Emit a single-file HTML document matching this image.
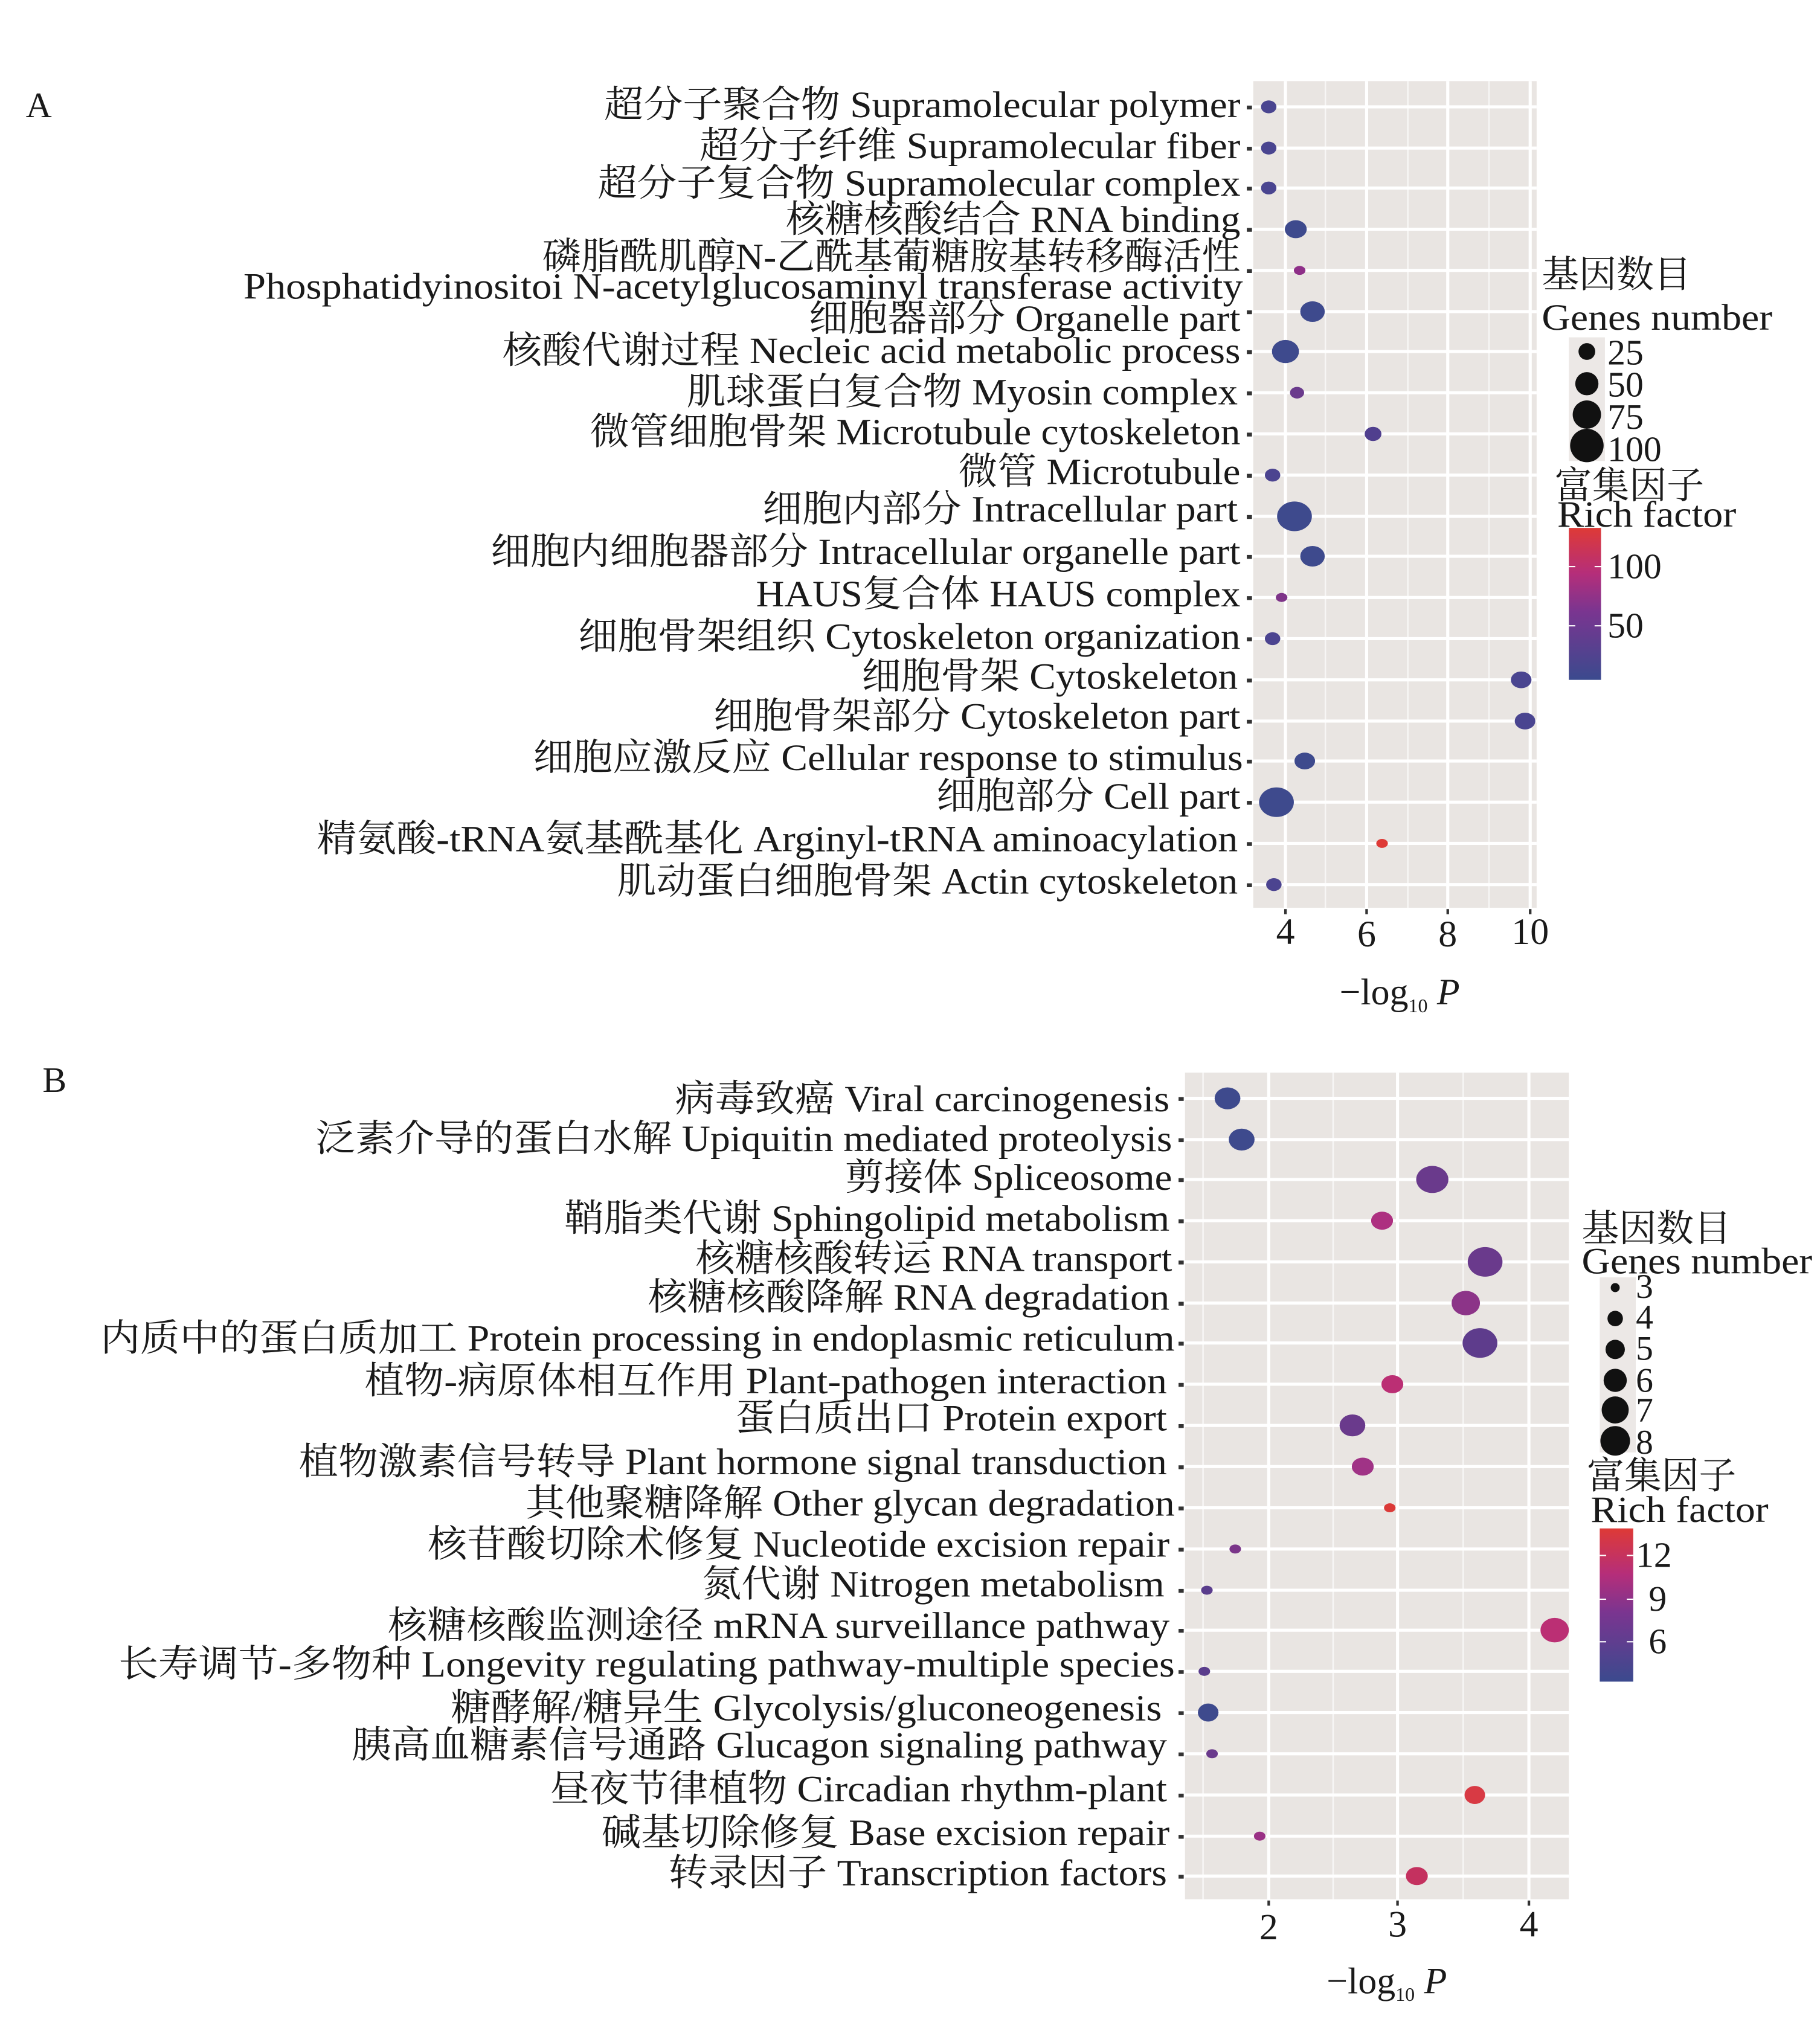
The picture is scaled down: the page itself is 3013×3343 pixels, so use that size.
<!DOCTYPE html>
<html><head><meta charset="utf-8"><style>
html,body{margin:0;padding:0;background:#fff;}
svg{display:block;}
text{font-family:"Liberation Serif","Noto Serif CJK SC",serif;fill:#1a1a1a;}
</style></head><body>
<svg width="3013" height="3343" viewBox="0 0 1413 1568" preserveAspectRatio="none" xmlns="http://www.w3.org/2000/svg">
<defs>
<linearGradient id="cb" x1="0" y1="1" x2="0" y2="0">
<stop offset="0" stop-color="#3b4a8e"/><stop offset="0.45" stop-color="#7a3590"/><stop offset="0.7" stop-color="#b52e7a"/><stop offset="1" stop-color="#de3a36"/>
</linearGradient>
</defs>
<text x="20" y="91" font-size="28">A</text>
<text x="33" y="848" font-size="28">B</text>

<!-- Panel A -->
<rect x="973" y="63" width="220" height="642" fill="#e9e5e2"/>
<g stroke="#f7f6f5" stroke-width="1.2">
<line x1="1029" y1="63" x2="1029" y2="705"/><line x1="1093" y1="63" x2="1093" y2="705"/><line x1="1156" y1="63" x2="1156" y2="705"/>
</g>
<g stroke="#ffffff" stroke-width="2.4">
<line x1="998" y1="63" x2="998" y2="705"/><line x1="1061" y1="63" x2="1061" y2="705"/><line x1="1124" y1="63" x2="1124" y2="705"/><line x1="1188" y1="63" x2="1188" y2="705"/>
<line x1="973" y1="83" x2="1193" y2="83"/><line x1="973" y1="115" x2="1193" y2="115"/><line x1="973" y1="146" x2="1193" y2="146"/><line x1="973" y1="178" x2="1193" y2="178"/><line x1="973" y1="210" x2="1193" y2="210"/><line x1="973" y1="242" x2="1193" y2="242"/><line x1="973" y1="273" x2="1193" y2="273"/><line x1="973" y1="305" x2="1193" y2="305"/><line x1="973" y1="337" x2="1193" y2="337"/><line x1="973" y1="369" x2="1193" y2="369"/><line x1="973" y1="401" x2="1193" y2="401"/><line x1="973" y1="432" x2="1193" y2="432"/><line x1="973" y1="464" x2="1193" y2="464"/><line x1="973" y1="496" x2="1193" y2="496"/><line x1="973" y1="528" x2="1193" y2="528"/><line x1="973" y1="560" x2="1193" y2="560"/><line x1="973" y1="591" x2="1193" y2="591"/><line x1="973" y1="623" x2="1193" y2="623"/><line x1="973" y1="655" x2="1193" y2="655"/><line x1="973" y1="687" x2="1193" y2="687"/>
</g>
<g font-size="29" lengthAdjust="spacingAndGlyphs">
<text x="469" y="91" textLength="494" lengthAdjust="spacingAndGlyphs">超分子聚合物 Supramolecular polymer</text>
<text x="543" y="123" textLength="420" lengthAdjust="spacingAndGlyphs">超分子纤维 Supramolecular fiber</text>
<text x="464" y="152" textLength="499" lengthAdjust="spacingAndGlyphs">超分子复合物 Supramolecular complex</text>
<text x="610" y="180" textLength="353" lengthAdjust="spacingAndGlyphs">核糖核酸结合 RNA binding</text>
<text x="421" y="209" textLength="542" lengthAdjust="spacingAndGlyphs">磷脂酰肌醇N-乙酰基葡糖胺基转移酶活性</text>
<text x="189" y="232" textLength="776" lengthAdjust="spacingAndGlyphs">Phosphatidyinositoi N-acetylglucosaminyl transferase activity</text>
<text x="628" y="257" textLength="335" lengthAdjust="spacingAndGlyphs">细胞器部分 Organelle part</text>
<text x="390" y="282" textLength="573" lengthAdjust="spacingAndGlyphs">核酸代谢过程 Necleic acid metabolic process</text>
<text x="533" y="314" textLength="428" lengthAdjust="spacingAndGlyphs">肌球蛋白复合物 Myosin complex</text>
<text x="458" y="345" textLength="505" lengthAdjust="spacingAndGlyphs">微管细胞骨架 Microtubule cytoskeleton</text>
<text x="744" y="376" textLength="219" lengthAdjust="spacingAndGlyphs">微管 Microtubule</text>
<text x="592" y="405" textLength="369" lengthAdjust="spacingAndGlyphs">细胞内部分 Intracellular part</text>
<text x="381" y="438" textLength="582" lengthAdjust="spacingAndGlyphs">细胞内细胞器部分 Intracellular organelle part</text>
<text x="587" y="471" textLength="376" lengthAdjust="spacingAndGlyphs">HAUS复合体 HAUS complex</text>
<text x="449" y="504" textLength="514" lengthAdjust="spacingAndGlyphs">细胞骨架组织 Cytoskeleton organization</text>
<text x="669" y="535" textLength="292" lengthAdjust="spacingAndGlyphs">细胞骨架 Cytoskeleton</text>
<text x="554" y="566" textLength="409" lengthAdjust="spacingAndGlyphs">细胞骨架部分 Cytoskeleton part</text>
<text x="414" y="598" textLength="551" lengthAdjust="spacingAndGlyphs">细胞应激反应 Cellular response to stimulus</text>
<text x="727" y="628" textLength="236" lengthAdjust="spacingAndGlyphs">细胞部分 Cell part</text>
<text x="246" y="661" textLength="715" lengthAdjust="spacingAndGlyphs">精氨酸-tRNA氨基酰基化 Arginyl-tRNA aminoacylation</text>
<text x="479" y="694" textLength="482" lengthAdjust="spacingAndGlyphs">肌动蛋白细胞骨架 Actin cytoskeleton</text>
</g>
<g fill="#333">
<rect x="968" y="82" width="4" height="3"/><rect x="968" y="114" width="4" height="3"/><rect x="968" y="145" width="4" height="3"/><rect x="968" y="177" width="4" height="3"/><rect x="968" y="209" width="4" height="3"/><rect x="968" y="241" width="4" height="3"/><rect x="968" y="272" width="4" height="3"/><rect x="968" y="304" width="4" height="3"/><rect x="968" y="336" width="4" height="3"/><rect x="968" y="368" width="4" height="3"/><rect x="968" y="400" width="4" height="3"/><rect x="968" y="431" width="4" height="3"/><rect x="968" y="463" width="4" height="3"/><rect x="968" y="495" width="4" height="3"/><rect x="968" y="527" width="4" height="3"/><rect x="968" y="559" width="4" height="3"/><rect x="968" y="590" width="4" height="3"/><rect x="968" y="622" width="4" height="3"/><rect x="968" y="654" width="4" height="3"/><rect x="968" y="686" width="4" height="3"/>
<rect x="997" y="706" width="2" height="4"/><rect x="1060" y="706" width="2" height="4"/><rect x="1123" y="706" width="2" height="4"/><rect x="1187" y="706" width="2" height="4"/>
</g>
<g>
<ellipse cx="985" cy="83" rx="6" ry="5" fill="#4a4590"/>
<ellipse cx="985" cy="115" rx="6" ry="5" fill="#4a4590"/>
<ellipse cx="985" cy="146" rx="6" ry="5" fill="#4a4590"/>
<ellipse cx="1006" cy="178" rx="8.5" ry="7" fill="#3e4a8d"/>
<ellipse cx="1009" cy="210" rx="4.5" ry="3.5" fill="#8e2f88"/>
<ellipse cx="1019" cy="242" rx="9.5" ry="8" fill="#3e4a8d"/>
<ellipse cx="998" cy="273" rx="10.5" ry="9" fill="#3e4a8d"/>
<ellipse cx="1007" cy="305" rx="5.5" ry="4.5" fill="#6a3a8c"/>
<ellipse cx="1066" cy="337" rx="6.5" ry="5.5" fill="#503f8e"/>
<ellipse cx="988" cy="369" rx="6" ry="5" fill="#4c4490"/>
<ellipse cx="1005" cy="401" rx="13.5" ry="11.5" fill="#3e4a8d"/>
<ellipse cx="1019" cy="432" rx="9.5" ry="8" fill="#3e4a8d"/>
<ellipse cx="995" cy="464" rx="4.5" ry="3.5" fill="#7e3489"/>
<ellipse cx="988" cy="496" rx="6" ry="5" fill="#4c4490"/>
<ellipse cx="1181" cy="528" rx="8" ry="6.5" fill="#4a4590"/>
<ellipse cx="1184" cy="560" rx="8" ry="6.5" fill="#4a4590"/>
<ellipse cx="1013" cy="591" rx="8" ry="6.5" fill="#3e4a8d"/>
<ellipse cx="991" cy="623" rx="13.5" ry="11.5" fill="#3e4a8d"/>
<ellipse cx="1073" cy="655" rx="4.5" ry="3.5" fill="#de3a36"/>
<ellipse cx="989" cy="687" rx="6" ry="5" fill="#4c4490"/>
</g>
<g font-size="29" text-anchor="middle">
<text x="998" y="733">4</text><text x="1061" y="735">6</text><text x="1124" y="735">8</text><text x="1188" y="733">10</text>
</g>
<text x="1040" y="780" font-size="29">−log<tspan font-size="15" dy="6">10</tspan><tspan dy="-6" font-style="italic"> P</tspan></text>
<text x="1197" y="223" font-size="29" textLength="116" lengthAdjust="spacingAndGlyphs">基因数目</text>
<text x="1197" y="256" font-size="29" textLength="179" lengthAdjust="spacingAndGlyphs">Genes number</text>
<rect x="1218" y="262" width="28" height="96" fill="#ece8e6"/>
<circle cx="1232" cy="273" r="6.5" fill="#111"/>
<circle cx="1232" cy="298" r="9" fill="#111"/>
<circle cx="1232" cy="322" r="11" fill="#111"/>
<circle cx="1232" cy="346" r="13" fill="#111"/>
<g font-size="28"><text x="1248" y="283">25</text><text x="1248" y="308">50</text><text x="1248" y="333">75</text><text x="1248" y="358">100</text></g>
<text x="1207" y="387" font-size="29" textLength="116" lengthAdjust="spacingAndGlyphs">富集因子</text>
<text x="1209" y="409" font-size="29" textLength="139" lengthAdjust="spacingAndGlyphs">Rich factor</text>
<rect x="1218" y="410" width="25" height="118" fill="url(#cb)"/>
<g stroke="#fff" stroke-width="1"><line x1="1218" y1="440" x2="1223" y2="440"/><line x1="1238" y1="440" x2="1243" y2="440"/><line x1="1218" y1="486" x2="1223" y2="486"/><line x1="1238" y1="486" x2="1243" y2="486"/></g>
<g font-size="28"><text x="1248" y="449">100</text><text x="1248" y="495">50</text></g>

<!-- Panel B -->
<rect x="920" y="833" width="298" height="642" fill="#e9e5e2"/>
<g stroke="#f7f6f5" stroke-width="1.2">
<line x1="934" y1="833" x2="934" y2="1475"/><line x1="1035" y1="833" x2="1035" y2="1475"/><line x1="1136" y1="833" x2="1136" y2="1475"/>
</g>
<g stroke="#ffffff" stroke-width="2.4">
<line x1="985" y1="833" x2="985" y2="1475"/><line x1="1085" y1="833" x2="1085" y2="1475"/><line x1="1187" y1="833" x2="1187" y2="1475"/>
<line x1="920" y1="853" x2="1218" y2="853"/><line x1="920" y1="885" x2="1218" y2="885"/><line x1="920" y1="916" x2="1218" y2="916"/><line x1="920" y1="948" x2="1218" y2="948"/><line x1="920" y1="980" x2="1218" y2="980"/><line x1="920" y1="1012" x2="1218" y2="1012"/><line x1="920" y1="1043" x2="1218" y2="1043"/><line x1="920" y1="1075" x2="1218" y2="1075"/><line x1="920" y1="1107" x2="1218" y2="1107"/><line x1="920" y1="1139" x2="1218" y2="1139"/><line x1="920" y1="1171" x2="1218" y2="1171"/><line x1="920" y1="1203" x2="1218" y2="1203"/><line x1="920" y1="1235" x2="1218" y2="1235"/><line x1="920" y1="1266" x2="1218" y2="1266"/><line x1="920" y1="1298" x2="1218" y2="1298"/><line x1="920" y1="1330" x2="1218" y2="1330"/><line x1="920" y1="1362" x2="1218" y2="1362"/><line x1="920" y1="1394" x2="1218" y2="1394"/><line x1="920" y1="1426" x2="1218" y2="1426"/><line x1="920" y1="1457" x2="1218" y2="1457"/>
</g>
<g font-size="29">
<text x="524" y="863" textLength="384" lengthAdjust="spacingAndGlyphs">病毒致癌 Viral carcinogenesis</text>
<text x="245" y="894" textLength="665" lengthAdjust="spacingAndGlyphs">泛素介导的蛋白水解 Upiquitin mediated proteolysis</text>
<text x="656" y="924" textLength="254" lengthAdjust="spacingAndGlyphs">剪接体 Spliceosome</text>
<text x="438" y="956" textLength="470" lengthAdjust="spacingAndGlyphs">鞘脂类代谢 Sphingolipid metabolism</text>
<text x="540" y="987" textLength="370" lengthAdjust="spacingAndGlyphs">核糖核酸转运 RNA transport</text>
<text x="503" y="1017" textLength="405" lengthAdjust="spacingAndGlyphs">核糖核酸降解 RNA degradation</text>
<text x="78" y="1049" textLength="834" lengthAdjust="spacingAndGlyphs">内质中的蛋白质加工 Protein processing in endoplasmic reticulum</text>
<text x="283" y="1082" textLength="623" lengthAdjust="spacingAndGlyphs">植物-病原体相互作用 Plant-pathogen interaction</text>
<text x="571" y="1111" textLength="335" lengthAdjust="spacingAndGlyphs">蛋白质出口 Protein export</text>
<text x="232" y="1145" textLength="674" lengthAdjust="spacingAndGlyphs">植物激素信号转导 Plant hormone signal transduction</text>
<text x="408" y="1177" textLength="504" lengthAdjust="spacingAndGlyphs">其他聚糖降解 Other glycan degradation</text>
<text x="332" y="1209" textLength="576" lengthAdjust="spacingAndGlyphs">核苷酸切除术修复 Nucleotide excision repair</text>
<text x="545" y="1240" textLength="359" lengthAdjust="spacingAndGlyphs">氮代谢 Nitrogen metabolism</text>
<text x="301" y="1272" textLength="607" lengthAdjust="spacingAndGlyphs">核糖核酸监测途径 mRNA surveillance pathway</text>
<text x="92" y="1302" textLength="820" lengthAdjust="spacingAndGlyphs">长寿调节-多物种 Longevity regulating pathway-multiple species</text>
<text x="350" y="1336" textLength="552" lengthAdjust="spacingAndGlyphs">糖酵解/糖异生 Glycolysis/gluconeogenesis</text>
<text x="273" y="1365" textLength="633" lengthAdjust="spacingAndGlyphs">胰高血糖素信号通路 Glucagon signaling pathway</text>
<text x="427" y="1399" textLength="479" lengthAdjust="spacingAndGlyphs">昼夜节律植物 Circadian rhythm-plant</text>
<text x="467" y="1433" textLength="441" lengthAdjust="spacingAndGlyphs">碱基切除修复 Base excision repair</text>
<text x="519" y="1464" textLength="387" lengthAdjust="spacingAndGlyphs">转录因子 Transcription factors</text>
</g>
<g fill="#333">
<rect x="915" y="852" width="4" height="3"/><rect x="915" y="884" width="4" height="3"/><rect x="915" y="915" width="4" height="3"/><rect x="915" y="947" width="4" height="3"/><rect x="915" y="979" width="4" height="3"/><rect x="915" y="1011" width="4" height="3"/><rect x="915" y="1042" width="4" height="3"/><rect x="915" y="1074" width="4" height="3"/><rect x="915" y="1106" width="4" height="3"/><rect x="915" y="1138" width="4" height="3"/><rect x="915" y="1170" width="4" height="3"/><rect x="915" y="1202" width="4" height="3"/><rect x="915" y="1234" width="4" height="3"/><rect x="915" y="1265" width="4" height="3"/><rect x="915" y="1297" width="4" height="3"/><rect x="915" y="1329" width="4" height="3"/><rect x="915" y="1361" width="4" height="3"/><rect x="915" y="1393" width="4" height="3"/><rect x="915" y="1425" width="4" height="3"/><rect x="915" y="1456" width="4" height="3"/>
<rect x="984" y="1476" width="2" height="4"/><rect x="1084" y="1476" width="2" height="4"/><rect x="1186" y="1476" width="2" height="4"/>
</g>
<g>
<ellipse cx="953" cy="853" rx="10" ry="8.5" fill="#3e4a8d"/>
<ellipse cx="964" cy="885" rx="10" ry="8.5" fill="#3e4a8d"/>
<ellipse cx="1112" cy="916" rx="12.5" ry="10.5" fill="#6a3a8c"/>
<ellipse cx="1073" cy="948" rx="8.5" ry="7" fill="#ad3080"/>
<ellipse cx="1153" cy="980" rx="13.5" ry="11.5" fill="#6a3a8c"/>
<ellipse cx="1138" cy="1012" rx="11" ry="9.5" fill="#8c3488"/>
<ellipse cx="1149" cy="1043" rx="13.5" ry="11.5" fill="#5e3c8c"/>
<ellipse cx="1081" cy="1075" rx="8.5" ry="7" fill="#bb2f74"/>
<ellipse cx="1050" cy="1107" rx="10" ry="8.5" fill="#6a3a8c"/>
<ellipse cx="1058" cy="1139" rx="8.5" ry="7" fill="#a03386"/>
<ellipse cx="1079" cy="1171" rx="4.5" ry="3.5" fill="#db3a38"/>
<ellipse cx="959" cy="1203" rx="4.5" ry="3.5" fill="#7a3589"/>
<ellipse cx="937" cy="1235" rx="4.5" ry="3.5" fill="#5a3d8c"/>
<ellipse cx="1207" cy="1266" rx="11" ry="9.5" fill="#bb2f74"/>
<ellipse cx="935" cy="1298" rx="4.5" ry="3.5" fill="#5a3d8c"/>
<ellipse cx="938" cy="1330" rx="8" ry="7" fill="#3e4a8d"/>
<ellipse cx="941" cy="1362" rx="4.5" ry="3.5" fill="#6a3a8c"/>
<ellipse cx="1145" cy="1394" rx="8" ry="7" fill="#d83a44"/>
<ellipse cx="978" cy="1426" rx="4.5" ry="3.5" fill="#9a3185"/>
<ellipse cx="1100" cy="1457" rx="8.5" ry="7" fill="#c4315f"/>
</g>
<g font-size="29" text-anchor="middle">
<text x="985" y="1506">2</text><text x="1085" y="1504">3</text><text x="1187" y="1504">4</text>
</g>
<text x="1030" y="1548" font-size="29">−log<tspan font-size="15" dy="6">10</tspan><tspan dy="-6" font-style="italic"> P</tspan></text>
<text x="1228" y="964" font-size="29" textLength="116" lengthAdjust="spacingAndGlyphs">基因数目</text>
<text x="1228" y="989" font-size="29" textLength="179" lengthAdjust="spacingAndGlyphs">Genes number</text>
<rect x="1242" y="992" width="28" height="136" fill="#ece8e6"/>
<circle cx="1254" cy="1000" r="3.5" fill="#111"/>
<circle cx="1254" cy="1024" r="6" fill="#111"/>
<circle cx="1254" cy="1048" r="7.5" fill="#111"/>
<circle cx="1254" cy="1072" r="9" fill="#111"/>
<circle cx="1254" cy="1095" r="10.5" fill="#111"/>
<circle cx="1254" cy="1119" r="11.5" fill="#111"/>
<g font-size="27"><text x="1270" y="1008">3</text><text x="1270" y="1032">4</text><text x="1270" y="1056">5</text><text x="1270" y="1081">6</text><text x="1270" y="1104">7</text><text x="1270" y="1129">8</text></g>
<text x="1232" y="1156" font-size="29" textLength="116" lengthAdjust="spacingAndGlyphs">富集因子</text>
<text x="1235" y="1182" font-size="29" textLength="138" lengthAdjust="spacingAndGlyphs">Rich factor</text>
<rect x="1242" y="1187" width="26" height="119" fill="url(#cb)"/>
<g stroke="#fff" stroke-width="1"><line x1="1242" y1="1208" x2="1247" y2="1208"/><line x1="1263" y1="1208" x2="1268" y2="1208"/><line x1="1242" y1="1242" x2="1247" y2="1242"/><line x1="1263" y1="1242" x2="1268" y2="1242"/><line x1="1242" y1="1275" x2="1247" y2="1275"/><line x1="1263" y1="1275" x2="1268" y2="1275"/></g>
<g font-size="28"><text x="1270" y="1217">12</text><text x="1280" y="1251">9</text><text x="1280" y="1284">6</text></g>
</svg>
</body></html>
